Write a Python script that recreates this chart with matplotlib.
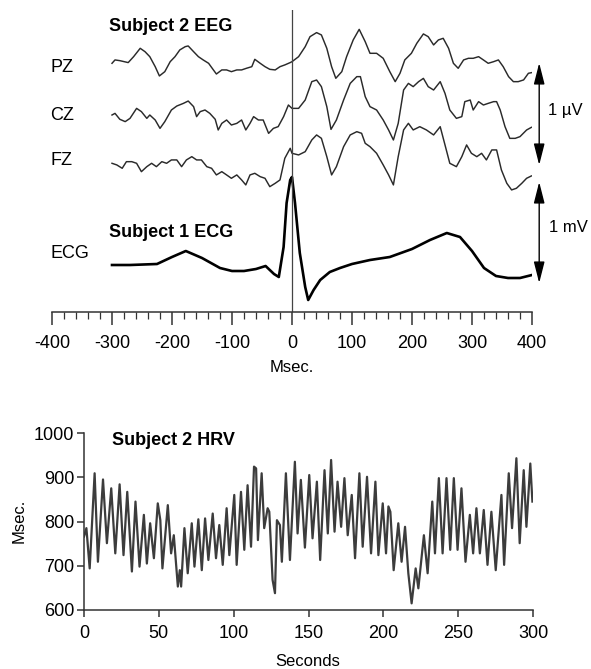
import matplotlib
matplotlib.use('Agg')
import matplotlib.pyplot as plt
from matplotlib.ticker import MultipleLocator

plt.rcParams['font.family'] = ['Liberation Sans', 'DejaVu Sans']
plt.rcParams['axes.unicode_minus'] = False

# ---------------- data ----------------
# EEG traces (ms, microvolts relative to the trace start)
pz_ms = [-300, -295, -287, -273, -264, -253, -245, -237, -228, -221, -212, -203, -195, -187, -178, -173,
         -164, -156, -148, -139, -131, -126, -117, -109, -101, -92, -84, -76, -67, -62, -53, -45, -37, -28,
         -20, -12, -3, 0, 11, 22, 30, 41, 49, 58, 66, 73, 83, 91, 102, 112, 122, 130, 141, 152, 163, 172,
         180, 188, 199, 208, 219, 227, 236, 244, 252, 261, 269, 277, 286, 294, 302, 311, 319, 327, 336,
         344, 352, 361, 369, 377, 386, 394, 399]
pz_uv = [0, 0.033, 0.026, 0.007, 0.065, 0.147, 0.114, 0.065, -0.033, -0.124, -0.082, 0.016, 0.065, 0.131,
         0.163, 0.170, 0.114, 0.065, 0.033, 0, -0.065, -0.105, -0.065, -0.065, -0.082, -0.065, -0.065,
         -0.049, -0.033, 0.039, 0, -0.033, -0.059, -0.065, -0.033, -0.016, 0.007, 0.016, 0.065, 0.163,
         0.261, 0.301, 0.278, 0.147, -0.033, -0.147, -0.082, 0.065, 0.229, 0.333, 0.212, 0.098, 0.098,
         0.049, -0.082, -0.180, -0.098, 0.033, 0.098, 0.196, 0.288, 0.261, 0.180, 0.229, 0.245, 0.147,
         0, -0.049, 0.033, 0.049, 0.049, 0.065, 0.033, 0, 0.016, 0.033, -0.033, -0.131, -0.180, -0.180,
         -0.163, -0.098, -0.092]

cz_ms = [-300, -295, -287, -278, -270, -259, -251, -242, -237, -228, -220, -212, -201, -192, -181, -173,
         -164, -159, -153, -145, -137, -128, -123, -117, -109, -101, -92, -84, -77, -70, -64, -56, -48,
         -39, -31, -23, -14, -6, 0, 11, 22, 33, 41, 49, 58, 65, 74, 86, 97, 108, 114, 122, 130, 141, 152,
         161, 169, 177, 186, 194, 202, 211, 219, 227, 236, 247, 255, 263, 274, 283, 288, 297, 302, 311,
         319, 327, 336, 341, 347, 355, 363, 372, 380, 391, 399]
cz_uv = [0, 0.016, -0.042, -0.065, -0.033, 0.065, 0.033, -0.033, 0, -0.049, -0.131, -0.065, 0.049, 0.088,
         0.114, 0.137, 0.082, -0.016, 0.033, 0.049, 0.016, -0.042, -0.147, -0.082, -0.049, -0.098,
         -0.082, -0.049, -0.147, -0.082, -0.016, -0.049, -0.049, -0.180, -0.131, -0.114, -0.016, 0.098,
         0.065, 0.065, 0.147, 0.327, 0.343, 0.278, 0.082, -0.141, -0.049, 0.147, 0.310, 0.376, 0.376,
         0.180, 0.082, 0.049, -0.049, -0.147, -0.245, -0.082, 0.245, 0.310, 0.278, 0.327, 0.359, 0.278,
         0.245, 0.327, 0.212, 0.049, -0.033, -0.016, 0.131, 0.147, 0.049, 0.131, 0.098, 0.114, 0.131,
         0.131, 0.049, -0.114, -0.229, -0.229, -0.212, -0.147, -0.121]

fz_ms = [-300, -292, -283, -276, -267, -259, -251, -242, -234, -226, -217, -209, -201, -192, -184, -176,
         -167, -159, -151, -142, -134, -126, -117, -109, -101, -92, -84, -77, -70, -62, -53, -45, -37,
         -28, -20, -12, -3, 0, 11, 22, 33, 41, 49, 58, 66, 74, 86, 97, 108, 116, 122, 130, 141, 152, 161,
         169, 177, 186, 194, 202, 213, 224, 236, 247, 255, 263, 274, 283, 291, 299, 308, 316, 324, 333,
         341, 349, 358, 366, 374, 383, 391, 399]
fz_uv = [0, -0.016, -0.049, 0.016, 0.016, 0, -0.082, -0.033, 0, -0.033, 0.016, 0, 0.033, 0.033, -0.033,
         0.033, 0.065, 0.033, 0.033, -0.033, -0.049, -0.114, -0.082, -0.114, -0.147, -0.114, -0.163,
         -0.212, -0.114, -0.098, -0.131, -0.147, -0.229, -0.196, -0.163, 0.049, 0.147, 0.098, 0.082,
         0.114, 0.229, 0.278, 0.245, 0.065, -0.114, -0.033, 0.163, 0.278, 0.310, 0.294, 0.196, 0.163,
         0.098, -0.016, -0.114, -0.212, 0.065, 0.327, 0.392, 0.327, 0.359, 0.327, 0.278, 0.359, 0.180,
         0, -0.033, 0.065, 0.180, 0.098, 0.065, 0.098, 0.033, 0.131, 0.131, -0.065, -0.196, -0.261,
         -0.245, -0.196, -0.147, -0.124]

# ECG (ms, millivolts relative to the baseline)
ecg_ms = [-300, -270, -225, -200, -177, -150, -120, -100, -80, -60, -44, -30, -22, -14, -9, -3, 0, 5, 13,
          22, 27, 36, 47, 63, 80, 100, 130, 163, 200, 230, 258, 280, 300, 320, 340, 360, 380, 400]
ecg_mv = [0, 0, 0.01, 0.08, 0.14, 0.07, -0.03, -0.06, -0.06, -0.04, -0.01, -0.09, -0.12, 0.18, 0.62,
          0.85, 0.88, 0.62, 0.12, -0.22, -0.35, -0.25, -0.15, -0.07, -0.03, 0.01, 0.05, 0.08, 0.16, 0.25,
          0.32, 0.28, 0.14, -0.03, -0.11, -0.13, -0.13, -0.10]

# HRV (seconds, msec)
hrv_t = [0.0, 1.6, 3.8, 7.1, 9.3, 12.7, 15.3, 18.2, 20.9, 23.8, 26.4, 28.9, 32.0, 34.4, 37.1, 40.0, 42.0,
         44.2, 46.7, 49.3, 51.0, 52.4, 56.0, 58.2, 60.0, 62.7, 64.0, 64.9, 67.1, 69.3, 72.0, 73.8, 76.4,
         78.7, 80.9, 83.1, 86.0, 88.2, 90.4, 92.7, 95.3, 97.1, 100.4, 102.0, 104.9, 107.1, 109.3, 111.6,
         113.6, 115.0, 116.2, 118.7, 120.4, 122.7, 123.8, 126.0, 127.6, 128.9, 130.9, 132.2, 134.9, 137.6,
         140.9, 142.7, 144.9, 147.6, 150.5, 152.7, 155.6, 157.8, 160.7, 162.9, 165.1, 167.4, 169.4, 171.8,
         174.0, 176.2, 178.9, 181.1, 184.0, 186.2, 189.1, 191.8, 194.7, 196.7, 199.6, 201.8, 203.4, 204.7,
         206.9, 210.0, 212.2, 214.5, 216.7, 218.9, 221.6, 223.4, 227.1, 229.6, 232.7, 234.5, 237.1, 239.6,
         242.2, 244.7, 247.1, 249.6, 252.2, 254.9, 257.8, 260.0, 262.2, 264.5, 267.1, 269.6, 272.2, 275.1,
         278.9, 280.7, 283.8, 286.0, 288.9, 291.1, 293.8, 295.6, 298.2, 299.6]
hrv_ms = [766, 785, 694, 909, 709, 895, 751, 875, 728, 884, 724, 867, 687, 845, 698, 815, 705,
          796, 717, 841, 803, 694, 837, 728, 769, 653, 690, 653, 785, 683, 796, 698, 805,
          690, 807, 713, 818, 717, 792, 702, 830, 724, 860, 702, 867, 736, 882, 743,
          924, 920, 758, 909, 785, 830, 822, 668, 638, 803, 792, 709, 909, 713,
          935, 773, 894, 741, 905, 762, 890, 713, 916, 773, 939, 777, 890, 788,
          898, 769, 860, 717, 909, 743, 901, 728, 890, 724, 841, 728, 834, 822,
          690, 796, 709, 788, 683, 615, 694, 649, 769, 683, 845, 728, 898, 728,
          898, 736, 898, 736, 875, 709, 815, 728, 830, 728, 826, 702, 822, 690,
          860, 702, 909, 785, 943, 751, 916, 788, 931, 845]

top_xticks = [-400, -300, -200, -100, 0, 100, 200, 300, 400]
hrv_xticks = [0, 50, 100, 150, 200, 250, 300]
hrv_yticks = [600, 700, 800, 900, 1000]
channels = ['PZ', 'CZ', 'FZ']

# ---------------- layout ----------------
W, H = 591, 669
fig = plt.figure(figsize=(W / 100, H / 100), dpi=100)


def fx(px):
    return px / W


def fy(py):
    return 1 - py / H


FS = 13
GRAY = '#333333'

# ---- top panel ----
ax = fig.add_axes([fx(52), fy(312), (532 - 52) / W, (312 - 10) / H])
ax.set_xlim(-400, 400)
ax.set_ylim(0, 3.02)

eeg_scale = 1.02
offsets = {'PZ': 2.487, 'CZ': 1.97, 'FZ': 1.487}
for name, ms, uv in (('PZ', pz_ms, pz_uv), ('CZ', cz_ms, cz_uv), ('FZ', fz_ms, fz_uv)):
    ax.plot(ms, [offsets[name] + v * eeg_scale for v in uv], color='#2a2a2a', lw=1.05)

ecg_base = 0.47
ax.plot(ecg_ms, [ecg_base + v for v in ecg_mv], color='black', lw=1.9, solid_joinstyle='round')

ax.axvline(0, color='#444444', lw=0.9)

for s in ('top', 'left', 'right'):
    ax.spines[s].set_visible(False)
ax.spines['bottom'].set_color(GRAY)
ax.spines['bottom'].set_linewidth(1.1)
ax.set_yticks([])
ax.set_xticks(top_xticks)
ax.xaxis.set_minor_locator(MultipleLocator(20))
ax.tick_params(axis='x', which='major', direction='out', length=9.4, width=1.1, color=GRAY,
               labelsize=FS, pad=7)
ax.tick_params(axis='x', which='minor', direction='out', length=5, width=0.9, color=GRAY)

# scale bars
arrow_kw = dict(arrowstyle='<|-|>,head_length=1.3,head_width=0.33', color='black', lw=1.0,
                shrinkA=0, shrinkB=0)
ax.annotate('', xy=(412, (312 - 63) / 100), xytext=(412, (312 - 165) / 100),
            arrowprops=arrow_kw, annotation_clip=False)
ax.annotate('', xy=(412, (312 - 182) / 100), xytext=(412, (312 - 283) / 100),
            arrowprops=arrow_kw, annotation_clip=False)
fig.text(fx(548), fy(110), '1 µV', fontsize=FS - 1, va='center', ha='left')
fig.text(fx(549), fy(227), '1 mV', fontsize=FS - 1, va='center', ha='left')

# labels
for name, ypx in zip(channels, (68, 116, 161)):
    fig.text(fx(50), fy(ypx), name, fontsize=FS, va='center', ha='left')
fig.text(fx(50), fy(254), 'ECG', fontsize=FS, va='center', ha='left')
fig.text(fx(109), fy(31), 'Subject 2 EEG', fontsize=FS, fontweight='bold', va='baseline', ha='left')
fig.text(fx(109), fy(237), 'Subject 1 ECG', fontsize=FS, fontweight='bold', va='baseline', ha='left')
fig.text(fx(292), fy(367), 'Msec.', fontsize=FS - 1, va='center', ha='center')

# ---- HRV panel ----
bx = fig.add_axes([fx(84), fy(610), (533 - 84) / W, (610 - 433) / H])
bx.plot(hrv_t, hrv_ms, color='#3c3c3c', lw=1.6, solid_joinstyle='round')
bx.set_xlim(0, 300)
bx.set_ylim(600, 1000)
bx.set_xticks(hrv_xticks)
bx.set_yticks(hrv_yticks)
for s in ('top', 'right'):
    bx.spines[s].set_visible(False)
for s in ('left', 'bottom'):
    bx.spines[s].set_color(GRAY)
    bx.spines[s].set_linewidth(1.1)
bx.tick_params(direction='out', length=5, width=1.1, color=GRAY, labelsize=FS)
bx.tick_params(axis='y', pad=2)
bx.tick_params(axis='x', pad=6)
fig.text(fx(112), fy(445), 'Subject 2 HRV', fontsize=FS, fontweight='bold', va='baseline', ha='left')
fig.text(fx(308), fy(661), 'Seconds', fontsize=FS - 1, va='center', ha='center')
fig.text(fx(19), fy(521), 'Msec.', fontsize=FS - 1, va='center', ha='center', rotation=90)

fig.savefig('out.png', dpi=100)
